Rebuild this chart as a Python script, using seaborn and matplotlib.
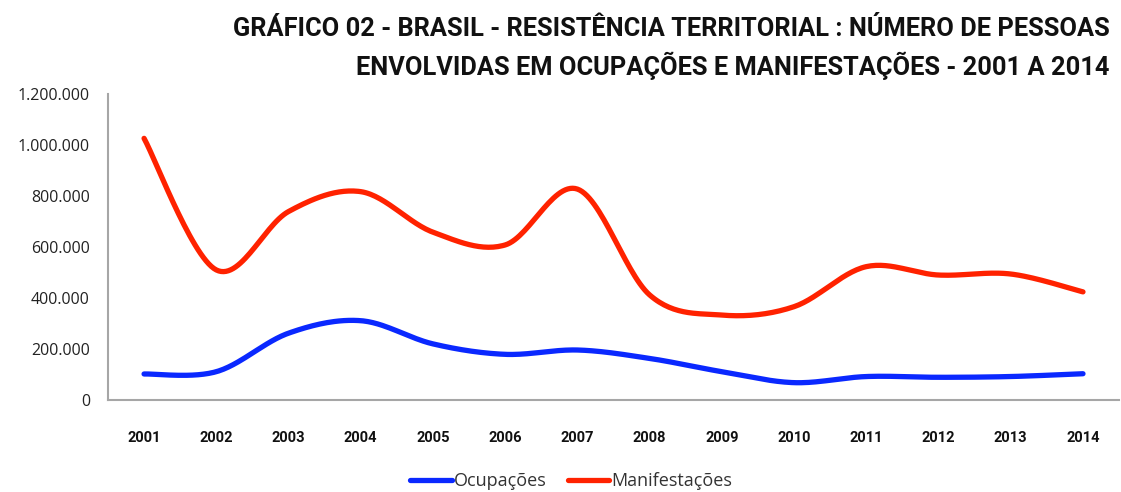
import numpy as np
import pandas as pd
import matplotlib
matplotlib.use('Agg')
import matplotlib.pyplot as plt
import matplotlib.ticker as mticker
import seaborn as sns

anos = ['2001', '2002', '2003', '2004', '2005', '2006', '2007',
        '2008', '2009', '2010', '2011', '2012', '2013', '2014']
ocupacoes = [102000, 111000, 262000, 311000, 220000, 179000, 196000,
             163000, 111000, 68000, 92000, 89000, 92000, 103000]
manifestacoes = [1026000, 510000, 739000, 817000, 658000, 608000, 827000,
                 412000, 333000, 366000, 523000, 490000, 494000, 424000]
series = ['Ocupações', 'Manifestações']
cores = ['#0a28ff', '#ff2200']
titulo = ('GRÁFICO 02 - BRASIL - RESISTÊNCIA TERRITORIAL : NÚMERO DE PESSOAS\n'
          'ENVOLVIDAS EM OCUPAÇÕES E MANIFESTAÇÕES - 2001 A 2014')


def curva_suave(y, n=30):
    # linha suavizada estilo Excel (Bezier cubica entre os pontos)
    x = np.arange(len(y), dtype=float)
    y = np.asarray(y, dtype=float)
    xs, ys = [], []
    for i in range(len(y) - 1):
        i0, i3 = max(i - 1, 0), min(i + 2, len(y) - 1)
        c1 = (x[i] + (x[i + 1] - x[i0]) / 6, y[i] + (y[i + 1] - y[i0]) / 6)
        c2 = (x[i + 1] - (x[i3] - x[i]) / 6, y[i + 1] - (y[i3] - y[i]) / 6)
        t = np.linspace(0, 1, n, endpoint=(i == len(y) - 2))
        a, b, c, d = (1 - t) ** 3, 3 * t * (1 - t) ** 2, 3 * t ** 2 * (1 - t), t ** 3
        xs.append(a * x[i] + b * c1[0] + c * c2[0] + d * x[i + 1])
        ys.append(a * y[i] + b * c1[1] + c * c2[1] + d * y[i + 1])
    return np.concatenate(xs), np.concatenate(ys)


partes = []
for nome, valores in zip(series, [ocupacoes, manifestacoes]):
    xs, ys = curva_suave(valores)
    partes.append(pd.DataFrame({'x': xs, 'valor': ys, 'serie': nome}))
df = pd.concat(partes, ignore_index=True)

sns.set_style('white')
plt.rcParams['font.family'] = ['Open Sans', 'DejaVu Sans']

fig = plt.figure(figsize=(11.21, 4.92), dpi=100)
ax = fig.add_axes([0.0963, 0.187, 0.902, 0.622])

sns.lineplot(data=df, x='x', y='valor', hue='serie', palette=cores,
             linewidth=3.8, sort=False, ax=ax, estimator=None)

ax.set_xlim(-0.5, len(anos) - 0.5)
ax.set_ylim(0, 1200000)
ax.yaxis.set_major_locator(mticker.MultipleLocator(200000))
ax.yaxis.set_major_formatter(mticker.FuncFormatter(lambda v, p: f'{int(v):,}'.replace(',', '.')))
ax.set_xticks(range(len(anos)))
ax.set_xticklabels(anos, fontweight='bold', fontsize=10.5, color='#111111',
                   family=['Roboto', 'DejaVu Sans'])
ax.set_xticks(np.arange(len(anos) + 1) - 0.5, minor=True)
ax.tick_params(axis='x', which='major', length=0, pad=22)
ax.tick_params(axis='x', which='minor', length=5, width=1.2, color='#a6a6a6', direction='out')
ax.tick_params(axis='y', length=5, width=1.2, color='#a6a6a6', direction='out',
               labelsize=11.5, labelcolor='#222222', pad=8)
ax.set_xlabel('')
ax.set_ylabel('')

sns.despine(ax=ax, top=True, right=True)
for s in ['left', 'bottom']:
    ax.spines[s].set_color('#a6a6a6')
    ax.spines[s].set_linewidth(1.5)

sns.move_legend(ax, 'center', bbox_to_anchor=(0.458, -0.265), ncol=2,
                frameon=False, title=None, fontsize=13, handlelength=2.3,
                handletextpad=0.1, columnspacing=1.2)
for t in ax.get_legend().get_texts():
    t.set_color('#333333')

fig.text(0.99, 0.965, titulo, ha='right', va='top', fontsize=18.3, fontweight='bold',
         linespacing=1.45, color='#111111', family=['Roboto', 'DejaVu Sans'])

fig.savefig('out.png', dpi=100)
